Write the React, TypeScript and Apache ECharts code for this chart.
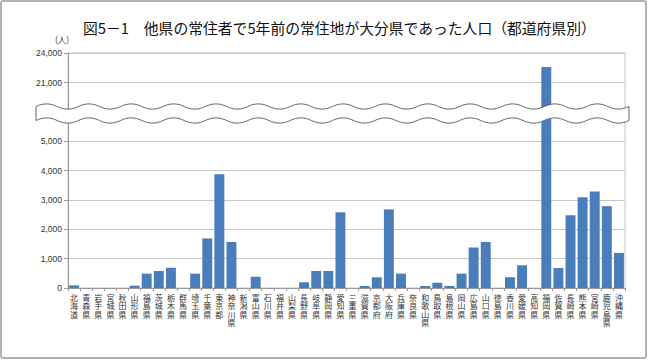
import React, { useEffect, useRef } from "react";
import * as echarts from "echarts";

const categories = ['北海道','青森県','岩手県','宮城県','秋田県','山形県','福島県','茨城県','栃木県','群馬県','埼玉県','千葉県','東京都','神奈川県','新潟県','富山県','石川県','福井県','山梨県','長野県','岐阜県','静岡県','愛知県','三重県','滋賀県','京都府','大阪府','兵庫県','奈良県','和歌山県','鳥取県','島根県','岡山県','広島県','山口県','徳島県','香川県','愛媛県','高知県','福岡県','佐賀県','長崎県','熊本県','宮崎県','鹿児島県','沖縄県'];

const values = [90,0,0,0,0,80,490,580,690,0,490,1690,3880,1570,0,385,0,0,0,195,580,580,2580,0,70,365,2680,490,0,70,180,70,490,1380,1570,0,365,775,0,22570,680,2480,3090,3290,2790,1195];

const lowerTicks = [0, 1000, 2000, 3000, 4000, 5000];
const upperTicks = [21000, 24000];

const titleText = "図5－1　他県の常住者で5年前の常住地が大分県であった人口（都道府県別）";
const unitText = "(人)";

function buildBreakPath(): string {
  const L = 36, R = 629, topY = 106.5, botY = 120.5, A = 2.6;
  const n = 28;
  const h = (R - L) / n;
  const k = (A * 4) / 3;
  let d = `M ${L} ${topY}`;
  for (let i = 0; i < n; i++) {
    const x0 = L + i * h;
    const s = i % 2 === 0 ? -1 : 1;
    d += ` C ${x0 + h / 3} ${topY + s * k} ${x0 + (2 * h) / 3} ${topY + s * k} ${x0 + h} ${topY}`;
  }
  d += ` L ${R} ${botY}`;
  for (let i = n - 1; i >= 0; i--) {
    const x0 = L + i * h;
    const s = i % 2 === 0 ? -1 : 1;
    d += ` C ${x0 + (2 * h) / 3} ${botY + s * k} ${x0 + h / 3} ${botY + s * k} ${x0} ${botY}`;
  }
  d += " Z";
  return d;
}

const fmt = (v: number) => v.toLocaleString("en-US");

export default function App() {
  const ref = useRef<HTMLDivElement>(null);
  useEffect(() => {
    if (!ref.current) return;
    echarts.graphic.registerShape("breakmark", echarts.graphic.extendPath(buildBreakPath(), {}) as any);
    const chart = echarts.init(ref.current, null, { renderer: "svg" });
    const axisLabelColor = "#333";
    const gridColor = "#c6c6c6";
    const option: any = {
      animation: false,
      backgroundColor: "#fff",
      title: {
        text: titleText,
        left: 83,
        top: 20,
        padding: 0,
        textStyle: {
          fontFamily: "Noto Sans CJK JP",
          fontSize: 14.8,
          fontWeight: "normal",
          color: "#111",
        },
      },
      grid: [
        { left: 68, top: 112, width: 557, height: 176, show: true, borderColor: gridColor, borderWidth: 1, backgroundColor: "transparent" },
        { left: 68, top: 53, width: 557, height: 59, show: true, borderColor: gridColor, borderWidth: 1, backgroundColor: "transparent" },
      ],
      xAxis: [
        {
          type: "category",
          gridIndex: 0,
          data: categories,
          axisLine: { lineStyle: { color: "#999" } },
          axisTick: { show: true, length: 3, lineStyle: { color: "#999" } },
          axisLabel: {
            interval: 0,
            margin: 5,
            fontFamily: "Noto Sans CJK JP",
            fontSize: 8,
            lineHeight: 8.5,
            color: axisLabelColor,
            formatter: (v: string) => v.split("").join("\n"),
          },
        },
        {
          type: "category",
          gridIndex: 1,
          data: categories,
          show: false,
        },
      ],
      yAxis: [
        {
          type: "value",
          gridIndex: 0,
          min: 0,
          max: 6000,
          interval: 1000,
          axisLine: { show: true, lineStyle: { color: "#999" } },
          axisTick: { show: true, length: 4, lineStyle: { color: "#999" } },
          splitLine: { lineStyle: { color: gridColor } },
          axisLabel: {
            margin: 6,
            fontFamily: "Liberation Sans",
            fontSize: 8.5,
            color: axisLabelColor,
            formatter: (v: number) => (lowerTicks.includes(v) ? fmt(v) : ""),
          },
        },
        {
          type: "value",
          gridIndex: 1,
          min: 18000,
          max: 24000,
          interval: 3000,
          axisLine: { show: true, lineStyle: { color: "#999" } },
          axisTick: { show: true, length: 4, lineStyle: { color: "#999" } },
          splitLine: { lineStyle: { color: gridColor } },
          axisLabel: {
            margin: 6,
            fontFamily: "Liberation Sans",
            fontSize: 8.5,
            color: axisLabelColor,
            formatter: (v: number) => (upperTicks.includes(v) ? fmt(v) : ""),
          },
        },
      ],
      series: [
        {
          type: "bar",
          xAxisIndex: 0,
          yAxisIndex: 0,
          data: values,
          barWidth: "82%",
          itemStyle: { color: "#4a7ebb" },
          clip: true,
        },
        {
          type: "bar",
          xAxisIndex: 1,
          yAxisIndex: 1,
          data: values.map((v) => (v > 6000 ? v : "-")),
          barWidth: "82%",
          itemStyle: { color: "#4a7ebb" },
          clip: true,
        },
      ],
      graphic: [
        {
          type: "text",
          x: 62,
          y: 39,
          z: 100,
          style: {
            text: unitText,
            fontFamily: "Noto Sans CJK JP",
            fontSize: 8.5,
            fill: "#333",
            align: "center",
            verticalAlign: "middle",
          },
        },
        {
          type: "breakmark",
          x: 0,
          y: 0,
          z: 100,
          style: { fill: "#fff", stroke: "#555", lineWidth: 0.9 },
        },
        {
          type: "rect",
          z: 100,
          shape: { x: 1, y: 1, width: 645, height: 357, r: 2 },
          style: { fill: "none", stroke: "#b3b3b3", lineWidth: 2 },
        },
      ],
    };
    chart.setOption(option);
    return () => chart.dispose();
  }, []);
  return (
    <div
      ref={ref}
      style={{ position: "fixed", left: 0, top: 0, width: 650, height: 360 }}
    />
  );
}
